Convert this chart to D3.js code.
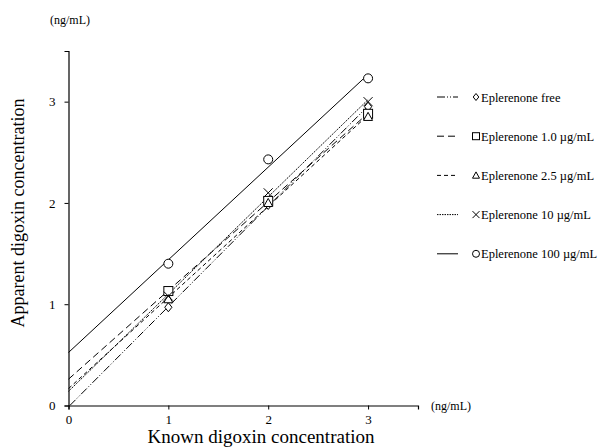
<!DOCTYPE html>
<html>
<head>
<meta charset="utf-8">
<script src="https://cdn.jsdelivr.net/npm/d3@7"></script>
<style>
  body { margin: 0; background: #fff; }
  text { font-family: "Liberation Serif", "Times New Roman", serif; fill: #000; }
</style>
</head>
<body>
<div id="chart"></div>
<script>
// known concentrations (ng/mL)
var known = [1, 2, 3];
var seriesNames = ["Eplerenone free", "Eplerenone 1.0 \u00b5g/mL", "Eplerenone 2.5 \u00b5g/mL", "Eplerenone 10 \u00b5g/mL", "Eplerenone 100 \u00b5g/mL"];
var seriesSymbols = ["diamond", "square", "triangle", "cross", "circle"];
var seriesDash = ["8,2,1,2,1,2", "7,4", "4,3", "1.5,1", null];
// apparent concentrations
var freeVals = [0.97, 1.98, 2.95];
var e1Vals = [1.13, 2.02, 2.88];
var e25Vals = [1.05, 2.00, 2.85];
var e10Vals = [1.08, 2.10, 3.00];
var e100Vals = [1.40, 2.43, 3.23];
var yTicks = [0, 1, 2, 3];
var xTicks = [0, 1, 2, 3];

var allVals = [freeVals, e1Vals, e25Vals, e10Vals, e100Vals];

// least squares fit for each series
function fit(xs, ys) {
  var n = xs.length;
  var mx = d3.mean(xs), my = d3.mean(ys);
  var sxy = 0, sxx = 0;
  for (var i = 0; i < n; i++) {
    sxy += (xs[i] - mx) * (ys[i] - my);
    sxx += (xs[i] - mx) * (xs[i] - mx);
  }
  var m = sxy / sxx;
  return {m: m, b: my - m * mx};
}

var svg = d3.select("#chart").append("svg")
  .attr("width", 603)
  .attr("height", 448);

var x = d3.scaleLinear().domain([0, 3.5]).range([68.5, 418]);
var y = d3.scaleLinear().domain([0, 3.5]).range([405.5, 51]);

// axes
var xAxis = svg.append("g")
  .attr("transform", "translate(0," + y(0) + ")")
  .call(d3.axisBottom(x).tickValues(xTicks).tickSize(4).tickPadding(5).tickFormat(d3.format("d")));
var yAxis = svg.append("g")
  .attr("transform", "translate(" + x(0) + ",0)")
  .call(d3.axisLeft(y).tickValues(yTicks).tickSize(4).tickPadding(9).tickFormat(d3.format("d")));
[xAxis, yAxis].forEach(function(a) {
  a.select(".domain").attr("stroke", "#000").attr("stroke-width", 1.2);
  a.selectAll(".tick line").attr("stroke", "#000");
  a.selectAll(".tick text")
    .style("font-size", "13px")
    .attr("fill", "#000");
});

// symbol drawing
function drawSymbol(g, type, cx, cy, s) {
  var h = s / 2;
  if (type == "diamond") {
    g.append("path").attr("d", "M" + cx + "," + (cy - h) + "L" + (cx + h * 0.8) + "," + cy + "L" + cx + "," + (cy + h) + "L" + (cx - h * 0.8) + "," + cy + "Z")
      .attr("fill", "#fff").attr("stroke", "#000");
  } else if (type == "square") {
    g.append("rect").attr("x", cx - h).attr("y", cy - h).attr("width", s).attr("height", s)
      .attr("fill", "#fff").attr("stroke", "#000");
  } else if (type == "triangle") {
    g.append("path").attr("d", "M" + cx + "," + (cy - h) + "L" + (cx + h) + "," + (cy + h * 0.8) + "L" + (cx - h) + "," + (cy + h * 0.8) + "Z")
      .attr("fill", "#fff").attr("stroke", "#000");
  } else if (type == "cross") {
    g.append("path").attr("d", "M" + (cx - h) + "," + (cy - h) + "L" + (cx + h) + "," + (cy + h) + "M" + (cx + h) + "," + (cy - h) + "L" + (cx - h) + "," + (cy + h))
      .attr("fill", "none").attr("stroke", "#000");
  } else {
    g.append("circle").attr("cx", cx).attr("cy", cy).attr("r", h)
      .attr("fill", "#fff").attr("stroke", "#000");
  }
}

// fit lines
var plot = svg.append("g");
allVals.forEach(function(vals, i) {
  var f = fit(known, vals);
  var x0 = 0;
  if (f.b < 0) x0 = -f.b / f.m;
  plot.append("line")
    .attr("x1", x(x0)).attr("y1", y(f.m * x0 + f.b))
    .attr("x2", x(3)).attr("y2", y(f.m * 3 + f.b))
    .attr("stroke", "#000")
    .attr("stroke-width", 1)
    .attr("stroke-dasharray", seriesDash[i]);
});

// points
allVals.forEach(function(vals, i) {
  vals.forEach(function(v, j) {
    drawSymbol(plot, seriesSymbols[i], x(known[j]), y(v), 9);
  });
});

// legend
var legend = svg.append("g").attr("transform", "translate(437,97)");
seriesNames.forEach(function(name, i) {
  var row = legend.append("g").attr("transform", "translate(0," + (i * 39.2) + ")");
  row.append("line")
    .attr("x1", 0).attr("x2", 21).attr("y1", 0).attr("y2", 0)
    .attr("stroke", "#000").attr("stroke-width", 1)
    .attr("stroke-dasharray", seriesDash[i]);
  drawSymbol(row, seriesSymbols[i], 39, 0, 7);
  row.append("text")
    .attr("x", 44).attr("y", 4.5)
    .style("font-size", "12.5px")
    .text(name);
});

// axis titles and units
svg.append("text")
  .attr("x", 261).attr("y", 443)
  .attr("text-anchor", "middle")
  .style("font-size", "19px")
  .text("Known digoxin concentration");
svg.append("text")
  .attr("transform", "translate(24,213)rotate(-90)")
  .attr("text-anchor", "middle")
  .style("font-size", "18px")
  .text("Apparent digoxin concentration");
svg.append("text")
  .attr("x", 50).attr("y", 24)
  .style("font-size", "12px")
  .text("(ng/mL)");
svg.append("text")
  .attr("x", 431).attr("y", 410)
  .style("font-size", "12px")
  .text("(ng/mL)");
</script>
</body>
</html>
